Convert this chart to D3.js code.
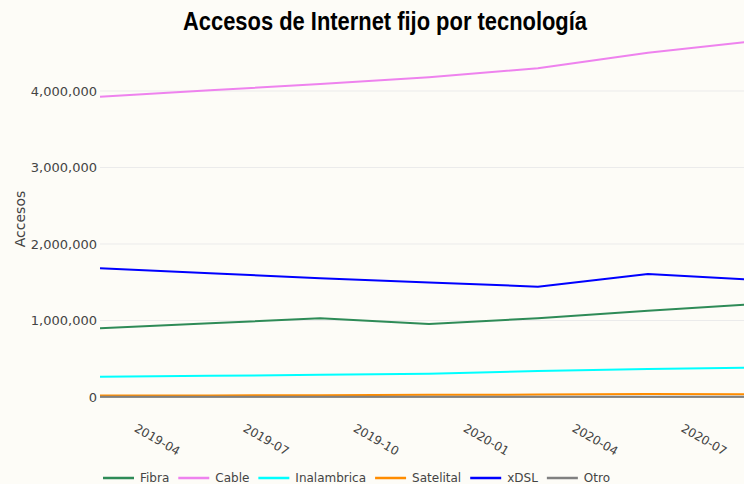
<!DOCTYPE html>
<html>
<head>
<meta charset="utf-8">
<script src="https://cdn.jsdelivr.net/npm/d3@7"></script>
<style>
  html, body { margin: 0; padding: 0; background: #fdfcf7; overflow: hidden; }
  svg { display: block; }
</style>
</head>
<body>
<svg id="chart" width="744" height="484"></svg>
<script>
// ---- data ----
const dates = ["2019-03", "2019-06", "2019-09", "2019-12", "2020-03", "2020-06", "2020-09"];
const fibra       = [898000, 963000, 1029000, 954000, 1029000, 1128000, 1216000];
const cable       = [3925000, 4009000, 4093000, 4180000, 4297000, 4500000, 4656000];
const inalambrica = [265000, 277000, 290000, 305000, 340000, 366000, 386000];
const satelital   = [18000, 21000, 24000, 28000, 32000, 40000, 36000];
const xdsl        = [1682000, 1618000, 1552000, 1497000, 1442000, 1608000, 1531000];
const otro        = [4000, 4000, 3500, 3500, 3000, 3000, 3000];
const seriesNames = ["Fibra", "Cable", "Inalambrica", "Satelital", "xDSL", "Otro"];
const seriesColors = ["#2e8b57", "#ee82ee", "#00ffff", "#ff8c00", "#0000ff", "#808080"];
const xTickLabels = ["2019-04", "2019-07", "2019-10", "2020-01", "2020-04", "2020-07"];
const yTicks = [0, 1000000, 2000000, 3000000, 4000000];
const titleText = "Accesos de Internet fijo por tecnología";
const yTitle = "Accesos";

const seriesValues = [fibra, cable, inalambrica, satelital, xdsl, otro];

// ---- layout ----
const svg = d3.select("#chart");
const parse = d3.timeParse("%Y-%m");
const dateObjs = dates.map(parse);

const x = d3.scaleTime()
  .domain([dateObjs[0], dateObjs[dateObjs.length - 1]])
  .range([100, 758]);
const y = d3.scaleLinear()
  .domain([0, 4000000])
  .range([397, 91]);

svg.append("rect").attr("width", 744).attr("height", 484).attr("fill", "#fdfcf7");

// gridlines
svg.append("g").selectAll("line")
  .data(yTicks.filter(d => d > 0))
  .join("line")
  .attr("x1", 100).attr("x2", 758)
  .attr("y1", d => y(d)).attr("y2", d => y(d))
  .attr("stroke", "#ebebeb").attr("stroke-width", 1);

// zero line
svg.append("line")
  .attr("x1", 100).attr("x2", 758)
  .attr("y1", y(0)).attr("y2", y(0))
  .attr("stroke", "#666").attr("stroke-width", 1);

// y axis
const yAxis = d3.axisLeft(y).tickValues(yTicks).tickFormat(d3.format(",")).tickSize(0).tickPadding(3);
const gy = svg.append("g").attr("transform", "translate(100,0)").call(yAxis);
gy.select(".domain").remove();
gy.selectAll("text")
  .attr("font-family", "DejaVu Sans, Verdana, sans-serif")
  .attr("font-size", 13)
  .attr("fill", "#444");

// x axis
const xTickDates = xTickLabels.map(parse);
const xAxis = d3.axisBottom(x).tickValues(xTickDates).tickFormat(d3.timeFormat("%Y-%m")).tickSize(0);
const gx = svg.append("g").attr("transform", "translate(0,397)").call(xAxis);
gx.select(".domain").remove();
gx.selectAll("text")
  .attr("font-family", "DejaVu Sans, Verdana, sans-serif")
  .attr("font-size", 12)
  .attr("fill", "#444")
  .attr("text-anchor", "start")
  .attr("y", 0).attr("x", 0).attr("dy", "0.35em")
  .attr("transform", "translate(-2,30) rotate(30)");

// lines
const line = d3.line()
  .x((d, i) => x(dateObjs[i]))
  .y(d => y(d));

svg.append("g").selectAll("path")
  .data(seriesValues)
  .join("path")
  .attr("d", d => line(d))
  .attr("fill", "none")
  .attr("stroke", (d, i) => seriesColors[i])
  .attr("stroke-width", 2)
  .attr("stroke-linejoin", "round");

// title
svg.append("text")
  .attr("x", 385).attr("y", 30)
  .attr("text-anchor", "middle")
  .attr("font-family", "Liberation Sans, Arial, sans-serif")
  .attr("font-weight", "bold")
  .attr("font-size", 25)
  .attr("textLength", 404)
  .attr("lengthAdjust", "spacingAndGlyphs")
  .attr("fill", "#000")
  .text(titleText);

// y title
svg.append("text")
  .attr("transform", "translate(25,219) rotate(-90)")
  .attr("text-anchor", "middle")
  .attr("font-family", "DejaVu Sans, Verdana, sans-serif")
  .attr("font-size", 14)
  .attr("fill", "#444")
  .text(yTitle);

// legend
const legend = svg.append("g");
let lx = 103;
const ly = 478;
seriesNames.forEach((name, i) => {
  legend.append("line")
    .attr("x1", lx).attr("x2", lx + 31)
    .attr("y1", ly).attr("y2", ly)
    .attr("stroke", seriesColors[i]).attr("stroke-width", 2.5);
  const t = legend.append("text")
    .attr("x", lx + 37).attr("y", ly).attr("dy", "0.35em")
    .attr("font-family", "DejaVu Sans, Verdana, sans-serif")
    .attr("font-size", 12)
    .attr("fill", "#444")
    .text(name);
  lx = lx + 37 + t.node().getComputedTextLength() + 9;
});
</script>
</body>
</html>
